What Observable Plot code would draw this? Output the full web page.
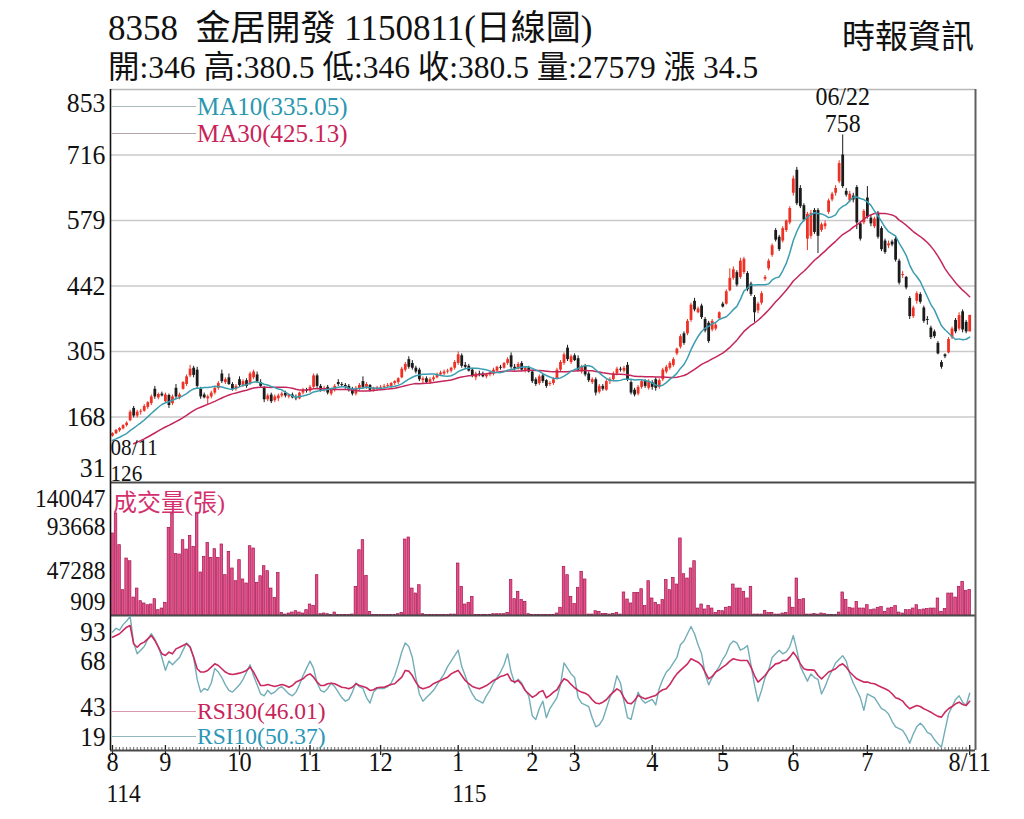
<!DOCTYPE html>
<html><head><meta charset="utf-8">
<script src="https://cdn.jsdelivr.net/npm/d3@7"></script>
<script src="https://cdn.jsdelivr.net/npm/@observablehq/plot@0.6"></script>
<style>
html,body{margin:0;padding:0;background:#fff;}
#wrap{position:relative;width:1024px;height:819px;overflow:hidden;font-family:"Liberation Serif","Noto Sans CJK TC",serif;color:#111;}
.abs{position:absolute;white-space:pre;line-height:1;}
.panel{position:absolute;left:0;}
.lg{position:absolute;white-space:pre;font-size:25px;line-height:18px;}
.lr{position:absolute;white-space:pre;font-size:23.5px;line-height:18px;}
.ln{position:absolute;height:0;border-top:1.5px solid #aaa;width:84px;left:112px;}
</style></head><body>
<div id="wrap">
  <div class="abs" style="left:108px;top:11px;font-size:35px;">8358  金居開發 1150811(日線圖)</div>
  <div class="abs" style="left:108px;top:52px;font-size:31.5px;">開:346 高:380.5 低:346 收:380.5 量:27579 漲 34.5</div>
  <div class="abs" style="left:842px;top:21px;font-size:33px;">時報資訊</div>
  <div id="p1" class="panel" style="top:80px"></div>
  <div id="p2" class="panel" style="top:482px"></div>
  <div id="p3" class="panel" style="top:615px"></div>
  <div class="ln" style="top:106px;border-color:#a9b9bd"></div>
  <div class="lg" style="left:197px;top:98px;color:#2b97ae">MA10(335.05)</div>
  <div class="ln" style="top:133px;border-color:#b3a4aa"></div>
  <div class="lg" style="left:197px;top:125px;color:#c8245a">MA30(425.13)</div>
  <div class="lg" style="left:113px;top:494px;color:#d4306e;font-size:24px;">成交量(張)</div>
  <div class="ln" style="top:711px;border-color:#d897ad"></div>
  <div class="lr" style="left:197px;top:702px;color:#c8245a">RSI30(46.01)</div>
  <div class="ln" style="top:736px;border-color:#93b5bc"></div>
  <div class="lr" style="left:197px;top:727px;color:#2b97b8">RSI10(50.37)</div>
</div>
<script>
// ---------- data ----------
const monthStart = [0,15,36,56,76,98,119,131,153,173,193,214,243];
const monthLabel = ["8","9","10","11","12","1","2","3","4","5","6","7","8/11"];
const yearMarks = [{i:0, t:"114"}, {i:98, t:"115"}];
const priceTicks = [853,716,579,442,305,168,31];
const volTicks = [140047,93668,47288,909];
const rsiTicks = [93,68,43,19];
const firstDateLabel = "08/11", peakDateLabel = "06/22";
// closes before the window (only feed the moving averages)
const priorClose = [78,80,82,81,84,86,85,88,90,92,91,94,96,106,108,110,112,115,117,119,122,125,129];

const open = [
128,133,139,143,150,160,186,170,178,180,188,196,226,208,216,
200,213,196,228,208,226,236,254,270,266,226,214,206,210,218,228,258,240,250,236,226,
246,234,244,238,250,256,240,228,204,214,202,206,212,218,210,214,208,206,218,224,
222,230,254,232,224,230,216,224,240,236,234,232,226,216,226,242,230,234,224,226,
228,230,232,232,238,240,250,266,288,280,270,266,244,248,240,246,250,256,258,262,264,270,
280,296,276,274,266,250,258,258,252,256,258,264,272,270,280,296,272,268,280,264,270,
262,246,238,254,244,236,238,248,266,280,312,282,
296,290,262,274,258,240,246,220,232,224,242,246,258,268,264,276,240,224,216,230,242,228,
240,246,230,246,262,270,276,300,314,342,342,370,410,386,400,372,364,350,352,374,
404,404,432,458,470,460,470,468,446,418,390,406,456,478,506,558,544,536,558,574,
636,684,646,610,540,546,600,600,558,566,596,622,636,660,716,640,620,630,648,572,574,
626,584,566,594,562,536,526,534,540,494,464,460,416,378,410,424,396,372,354,346,322,282,298,
302,334,370,352,388,366,346];
const high = [
135,142,146,152,158,182,190,182,184,194,200,214,232,218,220,
218,216,214,236,218,242,256,276,274,272,230,218,214,222,232,242,266,250,258,240,236,
252,246,248,262,266,262,246,232,216,218,214,216,220,222,216,218,214,220,228,228,
234,258,258,236,232,234,228,236,246,240,238,236,230,232,238,252,240,236,230,232,
234,236,238,240,244,250,272,282,294,286,274,270,252,252,250,254,260,264,266,268,272,286,
304,300,282,278,270,262,264,262,258,262,270,274,276,282,292,302,278,282,284,272,274,
266,250,256,258,246,242,250,270,286,302,318,298,
300,296,276,278,262,250,250,236,236,246,250,262,272,272,274,282,244,228,234,246,246,246,
244,250,248,270,276,284,292,312,340,346,372,406,416,398,404,376,368,372,364,388,
408,434,478,482,474,500,502,472,450,422,408,430,464,498,530,562,548,566,580,608,
672,690,652,614,596,600,604,604,574,578,624,638,652,704,758,646,640,636,652,576,602,
650,590,586,598,566,540,536,538,544,498,472,462,420,400,430,428,400,378,358,350,326,286,300,
334,356,374,386,392,370,380.5];
const low = [
126,131,136,141,147,158,166,166,172,178,184,192,205,204,210,
196,186,192,206,204,224,232,250,250,228,205,206,192,206,214,224,238,236,234,222,222,
230,230,228,234,246,238,228,198,200,196,198,200,208,208,206,206,202,204,214,218,
218,228,228,220,220,214,212,220,232,230,226,220,212,212,222,226,226,220,220,222,
224,226,228,228,234,236,248,262,268,266,258,242,238,238,236,242,248,254,254,258,260,266,
276,270,268,262,250,244,252,250,248,252,254,262,266,268,276,268,264,266,264,260,260,
238,232,234,238,228,232,234,246,262,276,284,278,
284,262,258,252,240,236,212,216,222,222,236,242,254,262,260,242,214,210,212,226,228,224,
224,222,226,242,258,266,272,296,310,318,338,366,388,384,372,344,322,346,348,370,
396,402,430,454,440,456,466,430,420,366,384,402,452,474,502,534,514,532,554,570,
630,610,604,576,516,540,550,510,554,560,592,618,630,656,646,628,616,616,560,536,570,
582,566,562,540,514,508,520,524,492,444,458,434,372,374,404,404,364,360,330,332,298,268,290,
300,330,342,348,344,342,346];
const close = [
133,140,144,150,155,178,170,178,180,190,198,210,210,215,212,
214,192,210,210,214,240,252,268,255,232,210,208,210,218,228,238,242,246,236,226,232,
234,242,232,258,262,242,232,204,212,200,210,212,216,212,214,208,206,218,224,222,
230,254,232,224,228,218,224,232,236,234,230,224,216,228,234,230,236,224,228,229,
230,232,234,238,242,248,268,278,272,270,262,246,248,240,246,250,256,260,262,264,270,282,
298,274,272,264,254,258,256,252,256,260,266,272,270,280,288,272,268,278,266,270,262,
242,236,252,242,232,238,246,266,282,298,288,294,
286,266,272,256,244,246,218,232,226,242,246,258,268,266,270,246,218,214,230,242,232,242,
230,228,244,266,272,280,288,310,336,322,368,402,392,394,376,348,326,368,360,386,
398,430,458,476,444,494,498,434,424,386,404,426,460,494,526,538,518,562,578,604,
666,614,608,580,592,594,554,546,570,572,620,634,646,698,650,632,634,622,574,540,598,
586,572,582,544,518,512,530,528,496,448,466,438,378,396,426,408,368,370,334,336,300,272,294,
330,352,346,380,350,346,380.5];
const volume = [
86700,107600,74500,27400,60500,57700,19700,29100,15900,13500,11700,12400,18000,6500,8200,
14200,92600,107600,65100,64700,79700,69900,84200,72700,107600,45900,62300,76900,61200,70300,61200,75200,43100,67500,50100,36800,
58800,38600,34400,73400,71000,35100,42000,52500,47300,29100,19400,45500,3700,1900,3000,4000,5400,4000,3000,6500,
12400,11000,43100,2300,3000,2300,1300,4000,1300,1300,1300,1300,1900,30900,69200,79700,42400,4700,1300,1300,
1300,1300,1300,1300,1300,2300,3700,80400,82500,29100,23900,32600,2300,1300,1300,1600,1600,1600,1600,1600,1900,1900,
55300,30900,12400,14200,20400,1300,1300,1600,1600,1600,2300,2300,2300,2300,3700,37900,18000,25700,17000,15200,2300,
1600,1600,1600,1300,1300,1300,1600,3000,9000,51800,43100,20400,
12800,29900,46600,38600,1900,1900,5400,4700,2600,2600,1900,2600,3700,1900,25000,17600,13500,24600,24600,28400,10700,36800,
18700,14200,11700,17000,37900,27400,40300,33300,81500,44100,39600,50100,57700,8200,12400,7200,11000,8200,3700,5800,
5400,9000,10000,33300,29100,29100,25700,18700,30900,1900,1900,1900,5800,3700,3700,1900,1900,3000,3700,19700,
9000,39600,17000,18000,1900,1900,2600,1900,3000,2300,1300,1300,1300,4000,25000,17000,9000,8200,15200,8200,8200,
11700,6500,7200,9000,9700,4700,8200,9000,10700,4000,3000,6500,6500,8200,11700,6500,7200,7600,8200,8200,18700,4700,7600,
23900,23900,19700,30900,36100,26400,27579];
const rsi10 = [
84,86,85,88,90,92.5,78,72,74,76,80,83,80,76,70,
63,68,66,68,70,74,78,76,70,58,51,53,52,56,64,62,59,55,52,51,53,
55,58,62,66,60,55,50,49,52,50,51,53,54,52,50,49,51,55,60,64,
68,64,56,52,51,53,56,54,51,48,46,47,51,56,54,53,48,45,51,53,
53,53,54,56,60,66,73,78,76,70,59,50,46,48,50,52,55,58,61,65,68,71,
74,65,60,54,50,47,46,45,49,52,56,59,62,66,72,62,56,58,56,52,49,
38,36,42,46,37,42,45,48,55,67,64,61,
59,48,45,44,43,37,32,33,36,42,48,52,60,56,46,37,36,44,51,47,45,46,
47,44,53,58,62,64,67,70,77,79,83,87,83,77,72,61,55,59,62,65,
69,72,77,79,78,74,75,76.5,66,55,46,52,59,63,70,72,74,72,73,76,
82,74,65,61,57,61,59,58,50,54,59,63,67,69,71,68,61,56,52,48,41,
50,49,48,45,42,41,39,35,32,31,30,27,23,28,32,34,32,29,28,25,22.7,20.8,30,
39,43,47,49,45.5,43.7,50.37];
const rsi30 = [
81.1,82,83,84.8,86.6,87.5,77.5,75.6,77.5,78.4,80.2,82,79.3,75.6,72,
71.1,72.9,72,74.7,75.6,76.6,77.5,75.6,70.2,63.8,62,62,62.9,64.7,66.5,65.6,63.8,62,61,60.7,61,
61.4,62,62.9,64.7,62,58.3,54.6,54.6,55.2,54.6,54.1,54.6,55.2,54.6,53.7,54.6,56.5,57.4,58.3,60.1,
61,59.2,56.5,54.6,54.6,55.6,55.9,55.6,54.6,53.7,53.4,52.8,53.7,55.6,54.6,54.1,53.4,51.9,52.3,53.4,
53.7,53.7,54.5,55.2,55.6,57.4,59.2,62.9,62.5,60.1,56.5,53.7,52.8,53.4,54.1,55.6,56.5,57.4,58.3,59.2,61,62,
62.9,60.1,57.4,55.6,54.1,53.4,52.8,53.7,54.6,55.9,57.4,58.3,59.6,60.1,61,57.4,56.5,57.4,55.2,51.9,50.1,
48.2,49.2,51,51.9,47.9,49.2,51,52.3,55.6,58.3,57.4,55.2,
53.4,51.9,51,50.4,49.2,46.8,45,44.6,45.5,46.8,49.2,51,52.8,51.5,47.9,45,44.6,46.4,49.2,48.2,47.3,47.9,
48.6,49.2,51,52.3,52.8,55.2,58.3,61,62.9,64.7,66.5,69.3,68.3,67.4,65.6,62,58.3,59.6,62,63.2,
64.7,66.1,68,69.3,68.7,68.3,68.3,68.3,64.7,60.1,56.5,58.3,60.1,62.9,64.7,66.5,66.9,68.3,68.3,70.2,
72.9,70.2,66.5,63.8,63.2,63.2,62.9,60.1,58.3,60.1,62,62.9,63.8,65.6,66.5,64.7,62,60.1,58.3,57.4,56.5,
56.5,55.9,55.6,54.6,53.7,52.8,51.9,50.1,47.9,47.3,46.1,43.7,41.9,42.8,43.7,43.1,41.9,41,40,38.8,37.7,37.3,40,
41.9,43.1,44.6,45.5,44.2,43.7,46.01];

// ---------- styling ----------
const RED = "#ee3124", BLK = "#1b1b1b";
const MA10C = "#3a9db0", MA30C = "#c4265c";
const VOLF = "#e4508a", VOLS = "#a51550";
const R10C = "#72adb8", R30C = "#c92a60";
const FONT = "font-family:'Liberation Serif','Noto Sans CJK TC',serif;";
const STYLE = "background:transparent;overflow:visible;color:#111;" + FONT;
const W = 1024, ML = 110, MR = 49;
const xDomain = [-0.567, 244.65];

const all = priorClose.concat(close);
const P = priorClose.length;
function ma(n, i) { const s = i + P - n + 1; return s < 0 ? NaN : d3.mean(all.slice(s, i + P + 1)); }
const days = close.map((c, i) => ({
  i, o: open[i], h: high[i], l: low[i], c, v: volume[i], r10: rsi10[i], r30: rsi30[i],
  ma10: ma(10, i), ma30: ma(30, i), col: c >= open[i] ? RED : BLK
}));
const lowDay = days[d3.minIndex(days, d => d.l)];
const peakDay = days[d3.maxIndex(days, d => d.h)];

function tickLabels(ticks, dTop, dBot, fs) {
  const t = {frameAnchor: "left", textAnchor: "end", dx: -5, fontSize: fs, fill: "#111"};
  return [
    Plot.text([ticks[0]], {...t, y: d => d, text: d => String(d), dy: dTop}),
    Plot.text(ticks.slice(1, -1), {...t, y: d => d, text: d => String(d)}),
    Plot.text([ticks[ticks.length - 1]], {...t, y: d => d, text: d => String(d), dy: dBot})
  ];
}
function frameRules(yMin) {
  return [
    Plot.ruleY([yMin], {stroke: "#4a4a4a", strokeWidth: 2}),
    Plot.ruleX([xDomain[0]], {stroke: "#111", strokeWidth: 1.6}),
    Plot.ruleX([xDomain[1]], {stroke: "#606060", strokeWidth: 2})
  ];
}
function condense(svg, sx) {
  svg.querySelectorAll("text").forEach(t => {
    const tr = t.getAttribute("transform");
    if (tr) t.setAttribute("transform", tr + ` scale(${sx},1)`);
    else {
      const x = +t.getAttribute("x") || 0, y = +t.getAttribute("y") || 0;
      t.removeAttribute("x"); t.removeAttribute("y");
      t.setAttribute("transform", `translate(${x},${y}) scale(${sx},1)`);
    }
  });
  return svg;
}

// ---------- price panel ----------
const p1 = Plot.plot({
  width: W, height: 402, marginTop: 9, marginBottom: 0, marginLeft: ML, marginRight: MR,
  style: STYLE,
  x: {domain: xDomain, axis: null},
  y: {domain: [priceTicks[priceTicks.length - 1], priceTicks[0]], axis: null},
  color: {type: "identity"},
  marks: [
    Plot.ruleY(priceTicks.slice(1, -1), {stroke: "#cacaca", strokeWidth: 1.6}),
    Plot.ruleY([priceTicks[0]], {stroke: "#b8b8b8", strokeWidth: 1.6}),
    Plot.ruleX(days, {x: "i", y1: "l", y2: "h", stroke: "col", strokeWidth: 1}),
    Plot.ruleX(days, {x: "i", y1: "o", y2: "c", stroke: "col", strokeWidth: 2.8}),
    Plot.line(days, {x: "i", y: "ma30", stroke: MA30C, strokeWidth: 1.5}),
    Plot.line(days, {x: "i", y: "ma10", stroke: MA10C, strokeWidth: 1.5}),
    ...frameRules(priceTicks[priceTicks.length - 1]),
    ...tickLabels(priceTicks, 14, -14, 28),
    Plot.text([lowDay], {x: "i", y: "l", text: () => firstDateLabel, textAnchor: "start", dx: -2, dy: 11, fontSize: 23, fill: "#111"}),
    Plot.text([lowDay], {x: "i", y: "l", text: d => String(d.l), textAnchor: "start", dx: -2, dy: 37, fontSize: 23, fill: "#111"}),
    Plot.text([peakDay], {x: "i", y: "h", text: () => peakDateLabel, dy: -38, fontSize: 26, fill: "#111"}),
    Plot.text([peakDay], {x: "i", y: "h", text: d => String(d.h), dy: -11, fontSize: 26, fill: "#111"})
  ]
});
document.getElementById("p1").appendChild(condense(p1, 0.92));

// ---------- volume panel ----------
const volBase = volTicks[volTicks.length - 1];
const p2 = Plot.plot({
  width: W, height: 133, marginTop: 0, marginBottom: 0, marginLeft: ML, marginRight: MR,
  style: STYLE,
  x: {domain: xDomain, axis: null},
  y: {domain: [volBase, volTicks[0]], axis: null},
  marks: [
    Plot.rect(days, {x1: d => d.i - 0.36, x2: d => d.i + 0.36, y1: () => volBase, y2: "v", fill: VOLF, stroke: VOLS, strokeWidth: 0.7}),
    ...frameRules(volBase),
    ...tickLabels(volTicks, 16, -14, 25.5)
  ]
});
document.getElementById("p2").appendChild(condense(p2, 0.92));

// ---------- RSI panel ----------
const rMin = rsiTicks[rsiTicks.length - 1], rMax = rsiTicks[0];
const perPx = (rMax - rMin) / 135;
const p3 = Plot.plot({
  width: W, height: 204, marginTop: 0, marginBottom: 69, marginLeft: ML, marginRight: MR,
  style: STYLE,
  x: {domain: xDomain, axis: null},
  y: {domain: [rMin, rMax], axis: null},
  marks: [
    Plot.ruleX(days, {x: "i", y1: () => rMin, y2: () => rMin + 3 * perPx, stroke: "#444", strokeWidth: 0.8}),
    Plot.ruleX(monthStart, {x: d => d, y1: () => rMin - 5 * perPx, y2: () => rMin + 5 * perPx, stroke: "#222", strokeWidth: 1.3}),
    Plot.line(days, {x: "i", y: "r10", stroke: R10C, strokeWidth: 1.4}),
    Plot.line(days, {x: "i", y: "r30", stroke: R30C, strokeWidth: 1.6}),
    ...frameRules(rMin),
    ...tickLabels(rsiTicks, 17, -13, 28),
    Plot.text(monthStart, {x: d => d, text: (d, j) => monthLabel[j], frameAnchor: "bottom", dy: 20.5, fontSize: 27, fill: "#111"}),
    Plot.text(yearMarks, {x: "i", text: "t", frameAnchor: "bottom", textAnchor: "start", dx: -6, dy: 51, fontSize: 26, fill: "#111"})
  ]
});
document.getElementById("p3").appendChild(condense(p3, 0.9));
</script>
</body></html>
